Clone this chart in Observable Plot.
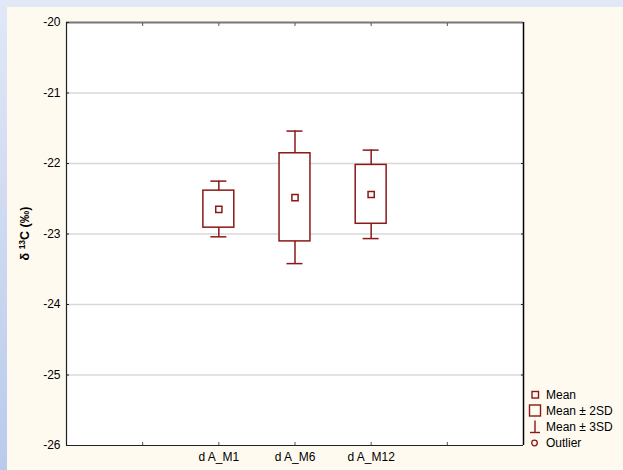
<!DOCTYPE html>
<html><head><meta charset="utf-8">
<script src="https://cdn.jsdelivr.net/npm/d3@7"></script>
<script src="https://cdn.jsdelivr.net/npm/@observablehq/plot@0.6"></script>
<style>
html,body{margin:0;padding:0;}
body{width:623px;height:470px;overflow:hidden;background:linear-gradient(to bottom,#e1e8f6,#b9caec);position:relative;font-family:"Liberation Sans",Arial,sans-serif;}
#panel{position:absolute;left:7px;top:7px;width:616px;height:463px;background:#fffaf0;}
#chart{position:absolute;left:0;top:0;}
#legend{position:absolute;left:527px;top:387px;font-size:12px;color:#000;}
.row{display:flex;align-items:center;height:16.1px;white-space:nowrap;}
.row svg{width:17px;height:16px;flex:none;margin-right:2px;}
</style></head><body>
<div id="panel"></div><div id="chart"></div><div id="legend"></div>
<script>
const categories = ["d A_M1", "d A_M6", "d A_M12"];
const positions = [2, 3, 4];
const means = [-22.65, -22.485, -22.44];
const boxLow = [-22.91, -23.105, -22.855];
const boxHigh = [-22.385, -21.855, -22.02];
const whiskerLow = [-23.04, -23.42, -23.065];
const whiskerHigh = [-22.25, -21.54, -21.81];
const yTicks = [-26, -25, -24, -23, -22, -21, -20];
const gridTicks = [-25, -24, -23, -22, -21];
const xTickPositions = [1, 2, 3, 4, 5];
const legendLabels = ["Mean", "Mean \u00b1 2SD", "Mean \u00b1 3SD", "Outlier"];

const data = categories.map((c, i) => ({
  category: c, pos: positions[i], mean: means[i],
  lo: boxLow[i], hi: boxHigh[i], wlo: whiskerLow[i], whi: whiskerHigh[i]
}));

const color = "#8b1818";
const boxHalf = 0.203, capHalf = 0.105;
const font = "'Liberation Sans', Arial, sans-serif";

const chart = Plot.plot({
  width: 623, height: 470,
  marginLeft: 66, marginTop: 22, marginRight: 100, marginBottom: 25,
  style: {background: "transparent", fontSize: "12px", fontFamily: font, color: "#000"},
  x: {domain: [0, 6]},
  y: {domain: [-26, -20]},
  marks: [
    Plot.frame({fill: "white", stroke: "none"}),
    Plot.ruleY(gridTicks, {stroke: "#d8d8d8", strokeWidth: 1.5}),
    Plot.ruleX(data, {x: "pos", y1: "wlo", y2: "whi", stroke: color, strokeWidth: 1.5}),
    Plot.ruleY(data, {y: "whi", x1: d => d.pos - capHalf, x2: d => d.pos + capHalf, stroke: color, strokeWidth: 1.5}),
    Plot.ruleY(data, {y: "wlo", x1: d => d.pos - capHalf, x2: d => d.pos + capHalf, stroke: color, strokeWidth: 1.5}),
    Plot.rect(data, {x1: d => d.pos - boxHalf, x2: d => d.pos + boxHalf, y1: "lo", y2: "hi", fill: "white", stroke: color, strokeWidth: 1.5}),
    Plot.dot(data, {x: "pos", y: "mean", symbol: "square", r: 3.5, fill: "white", stroke: color, strokeWidth: 1.5}),
    Plot.ruleY([-20], {stroke: "#777", strokeWidth: 2}),
    Plot.ruleY([-26], {stroke: "#222", strokeWidth: 1.2}),
    Plot.ruleX([0], {stroke: "#222", strokeWidth: 1.2}),
    Plot.ruleX([6], {stroke: "#000", strokeWidth: 1.5}),
    Plot.axisY({anchor: "left", ticks: yTicks, tickSize: 0, tickPadding: 6, label: null, tickFormat: d => String(d), fontSize: 12}),
    Plot.axisY({anchor: "left", ticks: yTicks, tickSize: 3, dx: 3, tickFormat: () => "", label: null, stroke: "#222"}),
    Plot.axisY({anchor: "right", ticks: gridTicks, tickSize: 3, dx: -3, tickFormat: () => "", label: null, stroke: "#222"}),
    Plot.axisX({anchor: "bottom", ticks: positions, tickFormat: d => categories[positions.indexOf(d)], tickSize: 0, tickPadding: 7, label: null, fontSize: 12}),
    Plot.axisX({anchor: "bottom", ticks: xTickPositions, tickSize: 3, dy: -3, tickFormat: () => "", label: null, stroke: "#555"}),
    Plot.axisX({anchor: "top", ticks: xTickPositions, tickSize: 3, dy: 3, tickFormat: () => "", label: null, stroke: "#555"})
  ]
});
document.getElementById("chart").appendChild(chart);

// y-axis title with superscript
const svg = d3.select(chart);
const t = svg.append("text")
  .attr("transform", "translate(29,233.5) rotate(-90)")
  .attr("text-anchor", "middle")
  .attr("font-weight", "bold")
  .attr("font-size", "12.5px")
  .attr("font-family", font)
  .attr("fill", "#000");
t.append("tspan").text("\u03b4 ");
t.append("tspan").attr("font-size", "8.5px").attr("dy", "-0.5em").text("13");
t.append("tspan").attr("dy", "0.35em").text("C (\u2030)");

// legend
const icons = [
  `<rect x="5" y="4.5" width="6.5" height="6.5" fill="none" stroke="${color}" stroke-width="1.4"/>`,
  `<rect x="2.5" y="2" width="11" height="11" fill="none" stroke="${color}" stroke-width="1.4"/>`,
  `<line x1="8" y1="1.5" x2="8" y2="13.5" stroke="${color}" stroke-width="1.4"/><line x1="3" y1="13.5" x2="13" y2="13.5" stroke="${color}" stroke-width="1.4"/>`,
  `<circle cx="7.5" cy="8" r="2.8" fill="none" stroke="${color}" stroke-width="1.3"/>`
];
const legend = document.getElementById("legend");
legendLabels.forEach((lab, i) => {
  const row = document.createElement("div");
  row.className = "row";
  row.innerHTML = `<svg viewBox="0 0 17 16">${icons[i]}</svg><span>${lab}</span>`;
  legend.appendChild(row);
});
</script>
</body></html>
